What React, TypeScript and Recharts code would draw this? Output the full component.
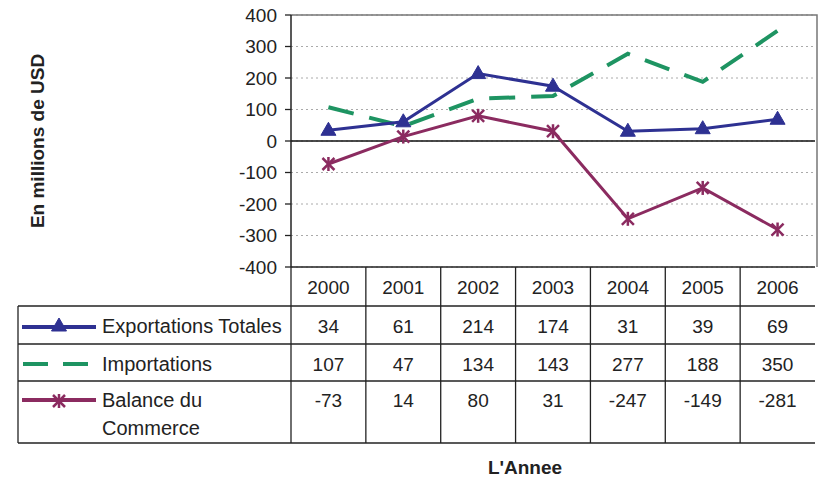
import React from 'react';
import { LineChart, Line, XAxis, YAxis, CartesianGrid, ReferenceLine, Customized } from 'recharts';

const years = ['2000', '2001', '2002', '2003', '2004', '2005', '2006'];
const exportations = [34, 61, 214, 174, 31, 39, 69];
const importations = [107, 47, 134, 143, 277, 188, 350];
const balance = [-73, 14, 80, 31, -247, -149, -281];
const yTicks = [-400, -300, -200, -100, 0, 100, 200, 300, 400];
const seriesNames = ['Exportations Totales', 'Importations', 'Balance du', 'Commerce'];
const yLabel = 'En millions de USD';
const xLabel = "L'Annee";

const data = years.map((y, i) => ({
  year: y,
  exp: exportations[i],
  imp: importations[i],
  bal: balance[i],
}));

const W = 818;
const H = 479;
const PLOT_LEFT = 291;
const PLOT_RIGHT = 815;
const PLOT_TOP = 15;
const PLOT_BOTTOM = 267;
const BAND = (PLOT_RIGHT - PLOT_LEFT) / years.length;
const ROW1 = 306;
const ROW2 = 344;
const ROW3 = 381;
const TABLE_BOTTOM = 443;
const TABLE_LEFT = 18;

const BLUE = '#2E3192';
const GREEN = '#1E9462';
const PURPLE = '#8B2B60';
const TEXT = '#222';
const FONT = '"Liberation Sans", Arial, sans-serif';
const FS = 19;

const Triangle = (props: any) => {
  const { cx, cy } = props;
  if (cx == null || cy == null) return null;
  return <polygon points={`${cx},${cy - 8} ${cx - 7.5},${cy + 5} ${cx + 7.5},${cy + 5}`} fill={BLUE} stroke={BLUE} strokeWidth={1} />;
};

const Star = (props: any) => {
  const { cx, cy } = props;
  if (cx == null || cy == null) return null;
  const r = 7;
  const d = 6;
  return (
    <g stroke={PURPLE} strokeWidth={2.5}>
      <line x1={cx} y1={cy - r} x2={cx} y2={cy + r} />
      <line x1={cx - d} y1={cy - d} x2={cx + d} y2={cy + d} />
      <line x1={cx - d} y1={cy + d} x2={cx + d} y2={cy - d} />
    </g>
  );
};

const TableTick = (props: any) => {
  const { x, payload, index } = props;
  const i = typeof index === 'number' ? index : years.indexOf(payload.value);
  const left = x - BAND / 2;
  const tx = { fontFamily: FONT, fontSize: FS, fill: TEXT, textAnchor: 'middle' as const, dominantBaseline: 'central' as const };
  return (
    <g>
      <line x1={left} y1={PLOT_BOTTOM} x2={left} y2={TABLE_BOTTOM} stroke={TEXT} strokeWidth={1.3} />
      <text x={x} y={287} {...tx}>{payload.value}</text>
      <text x={x} y={326} {...tx}>{exportations[i]}</text>
      <text x={x} y={364} {...tx}>{importations[i]}</text>
      <text x={x} y={400} {...tx}>{balance[i]}</text>
    </g>
  );
};

const Decor = () => {
  const tx = { fontFamily: FONT, fontSize: 20, fill: TEXT, dominantBaseline: 'central' as const };
  return (
    <g>
      {/* plot border top/right */}
      <polyline points={`${PLOT_LEFT},${PLOT_TOP} ${PLOT_RIGHT + 2},${PLOT_TOP} ${PLOT_RIGHT + 2},${PLOT_BOTTOM}`} fill="none" stroke="#777" strokeWidth={1.5} />
      {/* table lines */}
      {[ROW1, ROW2, ROW3, TABLE_BOTTOM].map((y) => (
        <line key={y} x1={TABLE_LEFT} y1={y} x2={PLOT_RIGHT} y2={y} stroke={TEXT} strokeWidth={1.3} />
      ))}
      <line x1={TABLE_LEFT} y1={ROW1} x2={TABLE_LEFT} y2={TABLE_BOTTOM} stroke={TEXT} strokeWidth={1.3} />
      {/* legend keys */}
      <line x1={22} y1={327} x2={96} y2={327} stroke={BLUE} strokeWidth={4} />
      <Triangle cx={59} cy={326} />
      <line x1={23} y1={364} x2={90} y2={364} stroke={GREEN} strokeWidth={4} strokeDasharray="25 15" />
      <line x1={22} y1={400} x2={96} y2={400} stroke={PURPLE} strokeWidth={4} />
      <Star cx={59} cy={401} />
      <text x={102} y={326} {...tx}>{seriesNames[0]}</text>
      <text x={102} y={364} {...tx}>{seriesNames[1]}</text>
      <text x={102} y={400} {...tx}>{seriesNames[2]}</text>
      <text x={102} y={428} {...tx}>{seriesNames[3]}</text>
      {/* axis titles */}
      <text x={37} y={141} transform="rotate(-90 37 141)" textAnchor="middle" dominantBaseline="central" fontFamily={FONT} fontSize={19} fontWeight="bold" fill={TEXT}>{yLabel}</text>
      <text x={525} y={467} textAnchor="middle" dominantBaseline="central" fontFamily={FONT} fontSize={19} fontWeight="bold" fill={TEXT}>{xLabel}</text>
    </g>
  );
};

export default function App() {
  return (
    <div style={{ position: 'absolute', left: 0, top: 0, width: W, height: H, background: '#fff' }}>
      <LineChart
        width={W}
        height={H}
        data={data}
        margin={{ top: PLOT_TOP, right: W - PLOT_RIGHT, left: PLOT_LEFT - 59, bottom: 0 }}
        style={{ fontFamily: FONT }}
      >
        <CartesianGrid vertical={false} stroke="#aaa" strokeDasharray="2 3" />
        <XAxis
          dataKey="year"
          height={H - PLOT_BOTTOM}
          axisLine={{ stroke: TEXT, strokeWidth: 1.3 }}
          tickLine={false}
          interval={0}
          padding={{ left: BAND / 2, right: BAND / 2 }}
          tick={<TableTick />}
        />
        <YAxis
          width={59}
          domain={[-400, 400]}
          ticks={yTicks}
          interval={0}
          tickSize={6}
          tickMargin={8}
          axisLine={{ stroke: TEXT, strokeWidth: 1.5 }}
          tickLine={{ stroke: TEXT, strokeWidth: 1.3 }}
          tick={{ fontSize: FS, fill: TEXT, fontFamily: FONT }}
        />
        <ReferenceLine y={0} stroke="#111" strokeWidth={1.5} />
        <Line type="linear" dataKey="imp" stroke={GREEN} strokeWidth={4} strokeDasharray="26 16" dot={false} isAnimationActive={false} />
        <Line type="linear" dataKey="bal" stroke={PURPLE} strokeWidth={3} dot={<Star />} isAnimationActive={false} />
        <Line type="linear" dataKey="exp" stroke={BLUE} strokeWidth={3} dot={<Triangle />} isAnimationActive={false} />
        <Customized component={<Decor />} />
      </LineChart>
    </div>
  );
}
